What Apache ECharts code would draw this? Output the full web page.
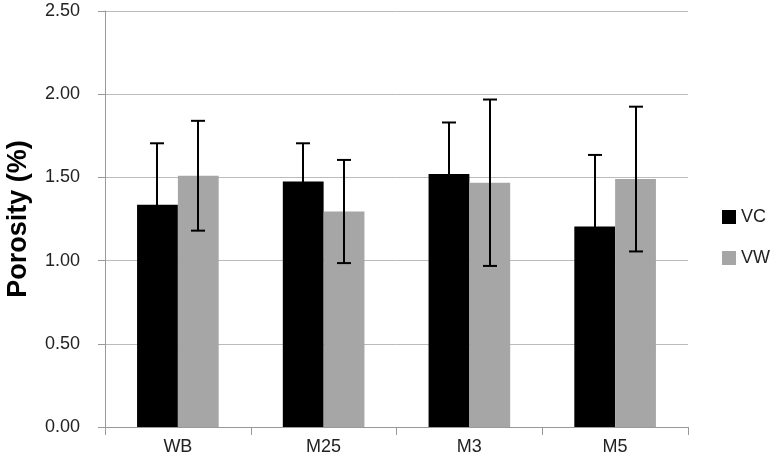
<!DOCTYPE html>
<html><head><meta charset="utf-8">
<script src="https://cdn.jsdelivr.net/npm/echarts@6/dist/echarts.min.js"></script>
<style>html,body{margin:0;padding:0;background:#fff}#c{width:780px;height:465px}</style>
</head><body><div id="c"></div>
<script>
var categories = ['WB', 'M25', 'M3', 'M5'];
var vcValues = [1.335, 1.475, 1.52, 1.205];
var vwValues = [1.51, 1.295, 1.468, 1.49];
var vcErrors = [0.37, 0.23, 0.31, 0.43];
var vwErrors = [0.33, 0.31, 0.50, 0.435];
var seriesNames = ['VC', 'VW'];

var GAP = 0.44;
function errSeries(values, errs, side) {
  return {
    type: 'custom', name: seriesNames[side < 0 ? 0 : 1] + ' err', z: 10,
    data: values.map(function (v, i) { return [i, v - errs[i], v + errs[i]]; }),
    renderItem: function (params, api) {
      var band = api.size([1, 0])[0];
      var off = side * band * (1 - GAP) / 4;
      var lo = api.coord([api.value(0), api.value(1)]);
      var hi = api.coord([api.value(0), api.value(2)]);
      var x = Math.round(lo[0] + off);
      var cw = 7;
      var st = { stroke: '#000', lineWidth: 2 };
      return { type: 'group', children: [
        { type: 'line', shape: { x1: x, y1: lo[1], x2: x, y2: hi[1] }, style: st },
        { type: 'line', shape: { x1: x - cw, y1: hi[1], x2: x + cw, y2: hi[1] }, style: st },
        { type: 'line', shape: { x1: x - cw, y1: lo[1], x2: x + cw, y2: lo[1] }, style: st }
      ]};
    }
  };
}

var chart = echarts.init(document.getElementById('c'));
chart.setOption({
  animation: false,
  textStyle: { fontFamily: 'Liberation Sans, Arial, sans-serif' },
  grid: { left: 105, right: 92, top: 11, bottom: 38, containLabel: false, outerBoundsMode: 'none' },
  legend: {
    orient: 'vertical', left: 717, top: 203, itemWidth: 14, itemHeight: 14, itemGap: 23,
    data: seriesNames, icon: 'rect',
    textStyle: { fontSize: 18, color: '#222', fontFamily: 'Liberation Sans, Arial, sans-serif' }
  },
  xAxis: {
    type: 'category', data: categories,
    axisLine: { lineStyle: { color: '#999', width: 1 } },
    axisTick: { show: true, length: 8, lineStyle: { color: '#999' } },
    axisLabel: { fontSize: 18, color: '#222', margin: 11 }
  },
  yAxis: {
    type: 'value', min: 0, max: 2.5, interval: 0.5,
    name: 'Porosity (%)', nameLocation: 'middle', nameGap: 73,
    nameTextStyle: { fontSize: 27, fontWeight: 'bold', color: '#000' },
    axisLine: { show: true, lineStyle: { color: '#999' } },
    axisTick: { show: true, length: 7, lineStyle: { color: '#999' } },
    axisLabel: { fontSize: 18, color: '#222', margin: 25, formatter: function (v) { return v.toFixed(2); } },
    splitLine: { lineStyle: { color: '#bbb', width: 1 } }
  },
  series: [
    { name: 'VC', type: 'bar', data: vcValues, itemStyle: { color: '#000' }, barGap: '0%', barCategoryGap: '44%' },
    { name: 'VW', type: 'bar', data: vwValues, itemStyle: { color: '#a6a6a6' }, barGap: '0%', barCategoryGap: '44%' },
    errSeries(vcValues, vcErrors, -1),
    errSeries(vwValues, vwErrors, 1)
  ]
});
</script></body></html>
